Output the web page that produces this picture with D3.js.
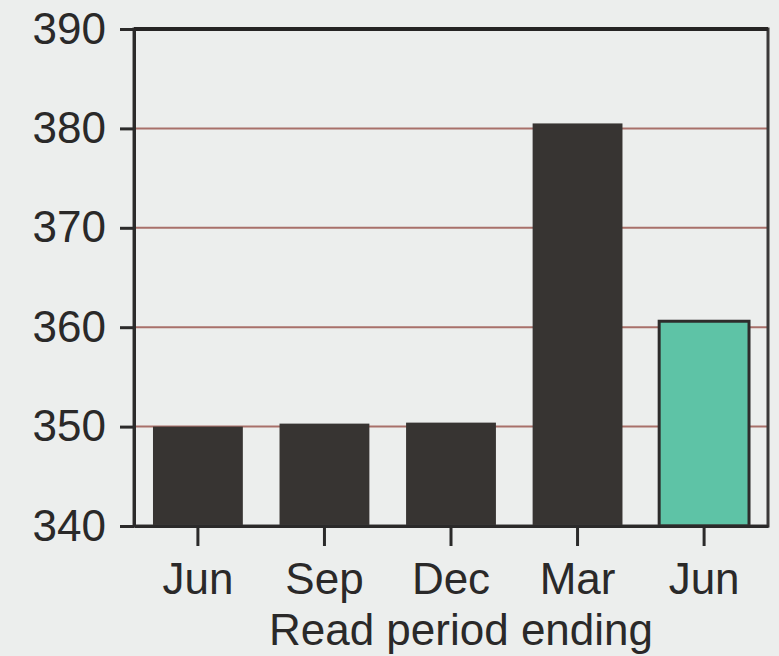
<!DOCTYPE html>
<html>
<head>
<meta charset="utf-8">
<script src="https://cdn.jsdelivr.net/npm/d3@7"></script>
<style>
  body { margin: 0; background: #eceeed; }
  svg { display: block; }
</style>
</head>
<body>
<svg width="779" height="656"></svg>
<script>
// read periods and values
var periods = ["Jun", "Sep", "Dec", "Mar", "Jun "];
var readings = [350.0, 350.3, 350.4, 380.5, 360.6];
var barColors = ["#373432", "#373432", "#373432", "#373432", "#5ec3a6"];
var yTicks = [340, 350, 360, 370, 380, 390];
var xTitle = "Read period ending";

var svg = d3.select("svg"),
    width = +svg.attr("width"),
    height = +svg.attr("height");

var margin = {top: 29, right: 11, bottom: 130, left: 134};
var plotW = width - margin.left - margin.right,
    plotH = height - margin.top - margin.bottom;

var x = d3.scaleBand().domain(periods).range([0, plotW]).paddingInner(0.29).paddingOuter(0.15);
var y = d3.scaleLinear().domain([340, 390]).range([plotH, 0]);

var g = svg.append("g").attr("transform", "translate(" + margin.left + "," + margin.top + ")");
var font = "'Liberation Sans', Arial, sans-serif";

// grid lines (brownish, scanned look)
g.append("g").selectAll("line")
  .data(yTicks.slice(1, -1))
  .enter().append("line")
  .attr("x1", 0).attr("x2", plotW)
  .attr("y1", function(d) { return y(d); })
  .attr("y2", function(d) { return y(d); })
  .attr("stroke", "#a8706a")
  .attr("stroke-width", 2);

// bars
g.append("g").selectAll("rect")
  .data(readings)
  .enter().append("rect")
  .attr("x", function(d, i) { return x(periods[i]); })
  .attr("y", function(d) { return y(d); })
  .attr("width", x.bandwidth())
  .attr("height", function(d) { return plotH - y(d); })
  .attr("fill", function(d, i) { return barColors[i]; })
  .attr("stroke", "#2e2c2b")
  .attr("stroke-width", function(d, i) { return i === 4 ? 3 : 0; });

// frame
g.append("rect")
  .attr("x", 0).attr("y", 0)
  .attr("width", plotW).attr("height", plotH)
  .attr("fill", "none")
  .attr("stroke", "#3a3838")
  .attr("stroke-width", 3);
g.append("line")
  .attr("x1", 0).attr("x2", plotW).attr("y1", 0).attr("y2", 0)
  .attr("stroke", "#262424").attr("stroke-width", 4);

// y axis
var yAxis = g.append("g")
  .call(d3.axisLeft(y).tickValues(yTicks).tickSize(14).tickSizeOuter(0).tickPadding(14));
yAxis.select(".domain").attr("stroke", "#2b2a2a").attr("stroke-width", 3);
yAxis.selectAll(".tick line").attr("stroke", "#2b2a2a").attr("stroke-width", 3);
yAxis.selectAll("text")
  .attr("fill", "#2a2929")
  .style("font-family", font)
  .style("font-size", "44px");

// x axis
var xAxis = g.append("g")
  .attr("transform", "translate(0," + plotH + ")")
  .call(d3.axisBottom(x).tickSize(20).tickSizeOuter(0).tickPadding(17)
    .tickFormat(function(d) { return d.trim(); }));
xAxis.select(".domain").attr("stroke", "#2b2a2a").attr("stroke-width", 3);
xAxis.selectAll(".tick line").attr("stroke", "#2b2a2a").attr("stroke-width", 3);
xAxis.selectAll("text")
  .attr("fill", "#2a2929")
  .style("font-family", font)
  .style("font-size", "44px");

// axis title
svg.append("text")
  .attr("x", margin.left + plotW / 2 + 10)
  .attr("y", 645)
  .attr("text-anchor", "middle")
  .attr("fill", "#2a2929")
  .style("font-family", font)
  .style("font-size", "44px")
  .text(xTitle);
</script>
</body>
</html>
